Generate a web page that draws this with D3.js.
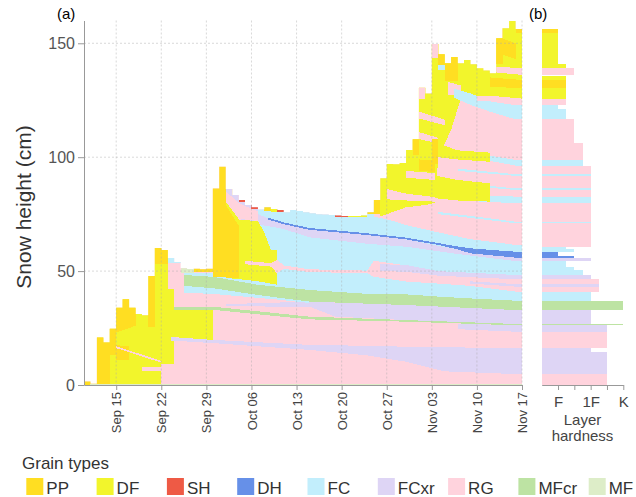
<!DOCTYPE html>
<html>
<head>
<meta charset="utf-8">
<script src="https://cdn.jsdelivr.net/npm/d3@7"></script>
<style>
body { margin: 0; background: #fff; }
svg text { font-family: "Liberation Sans", Arial, sans-serif; }
</style>
</head>
<body>
<div id="chart"></div>
<script>
// grain types and their colours
var grainTypes  = ['PP', 'DF', 'SH', 'DH', 'FC', 'FCxr', 'RG', 'MFcr', 'MF'];
var grainColors = ['#ffde22', '#f2f52c', '#ee5a45', '#6690e8', '#c2eefc', '#ded5f5', '#ffd3dd', '#bde3a3', '#ddedc8'];

// daily snow height (cm), day 0 = Sep 10
var snowHeight = [1.5, 0.5, 20.8, 18.7, 24.7, 33.9, 37.6, 33.9, 31.2, 30.6, 47.8, 60.1, 59.3, 55.7, 54.0, 51.2, 50.9,
  51.0, 50.8, 51.0, 86.3, 95.8, 86.0, 83.4, 81.2, 79.0, 78.0, 77.0, 78.0, 77.3, 76.8, 75.8, 76.8, 76.4, 75.8, 75.4,
  75.0, 74.8, 74.6, 74.4, 74.2, 74.2, 74.2, 74.4, 75.8, 81.2, 90.7, 97.0, 96.9, 97.4, 103.2, 107.9, 130.5, 128.0,
  149.7, 145.2, 141.2, 144.0, 141.2, 142.7, 140.8, 139.0, 138.0, 136.8, 152.2, 156.6, 159.8, 156.3];

// layers: [grain, [[day, bottom, top], ...]]  (S = up to the surface)
var S = 999;
var baseLayer = [['RG', [[0, 0, S], [68, 0, S]]]];

var earlyLayers = [
  ['DF', [[2, 0, S], [12, 0, S], [12, 9, S], [13, 9, S], [13, 9, 42], [14, 9, 42], [14, 21, 34], [20, 19.8, 33.2]]],
  ['PP', [[0, 0, S], [4, 0, S]]],
  ['PP', [[4, 13, S], [5, 13, S]]],
  ['PP', [[5, 23, S], [8, 26, S]]],
  ['PP', [[5, 11, 17.5], [7, 11, 17]]],
  ['PP', [[10, 25.6, S], [11, 25.6, S]]],
  ['PP', [[11, 53, S], [13, 53, S]]],
  ['RG', [[5, 16.2, 17], [12, 9.8, 10.6]]],
  ['RG', [[9, 6, 8], [12, 6, 8]]]
];

var lowerLayers = [
  ['FCxr', [[13.5, 19.5, 21], [20, 18.4, 19.8], [35, 15.4, 17.6], [44, 13, 17.2], [50, 10.2, 16.8], [56, 6, 16.6], [67, 4.8, 16.1], [68, 4.8, 16.1]]],
  ['FCxr', [[58, 24.5, 27], [67, 23.4, 26.2], [68, 23.4, 26.2]]],
  ['FCxr', [[22, 34.5, 35.5], [35, 34.4, 36.6], [39, 30, 36.2], [50, 28.5, 35.1], [67, 26.8, 32.9], [68, 26.8, 32.9]]],
  ['MFcr', [[14, 33, 34.2], [20, 33, 34.4], [35, 28.8, 30], [50, 27.8, 28.5], [67, 26.2, 26.8], [68, 26.2, 26.8]]],
  ['FC', [[15.5, 40.5, 43.5], [20, 40, 42.5], [30, 37.5, 38.8], [35, 36, 36.6]]],
  ['MFcr', [[15.5, 43.5, 48.5], [20, 42.5, 47.5], [27, 39.5, 44], [35, 36.6, 41.7], [50, 35.1, 39.8], [67, 32.9, 37], [68, 32.9, 37]]]
];

var fcLayers = [
  ['FC', [[15.5, 48.3, 49.5], [20, 47.5, 49], [24, 45.5, 47], [27, 44, S], [35, 41.7, S], [44, 40, S], [45, 40, 74], [48, 39.9, 72],
          [50, 39.8, 70.2], [55, 38.8, 67], [60, 38, 64], [67, 37, 61.5], [68, 37, 61.5]]],
  ['FCxr', [[24, 73, S], [27, 70.5, S], [27, 70.5, 75], [29, 69.5, 72.7], [31, 68.5, 70.6], [35, 64.8, 68.1], [44, 62, 65.8],
            [50, 60.7, 63.9], [58, 57.5, 59.5], [67, 54.4, 55.9], [68, 54.4, 55.9]]],
  ['DH', [[28.5, 72.7, 73.5], [31, 70.6, 71.4], [35, 68.1, 68.9], [44, 65.8, 66.6], [50, 63.9, 64.7], [55, 61.5, 62.3],
          [58, 59.5, 60.8], [60, 57.8, 60], [67, 55.9, 58.5], [68, 55.9, 58.5]]]
];

var stormLayers = [
  ['FC', [[13, 53.4, S], [15, 53.4, S]]],
  ['MF', [[15, 49, S], [17, 49, S]]],
  ['PP', [[17, 49.5, S], [20, 49.5, S]]],
  ['DF', [[22, 47, S], [24, 46.5, 72.5], [27, 45.5, 72], [28, 45, 67], [29, 44.5, 59.3], [30, 44, 59.3]]],
  ['PP', [[20, 47.5, S], [22, 47.5, S]]],
  ['PP', [[22, 47, 79], [24, 47, 70]]],
  ['RG', [[22, 80.5, S], [24, 73, S], [27, 72, S]]],
  ['FCxr', [[22, 85, S], [23, 82.5, S], [24, 80, S], [26, 77.3, S], [27, 76.3, S]]],
  ['RG', [[25, 53, 54.5], [29, 52, 53.5], [30, 49, 55], [31, 51, 52.5], [35, 49.6, 50.8], [44, 49, 50.2], [45, 47.5, 54.5],
          [50, 45.4, 52.5], [55, 44.5, 50], [60, 43.5, 47.5], [67, 41, 46.4], [68, 41, 46.4]]],
  ['FCxr', [[46, 50, 53], [50, 49.7, 52.7], [55, 48, 50], [67, 46.4, 48.3], [68, 46.4, 48.3]]],
  ['FCxr', [[60, 44.5, 45.5], [67, 43.2, 44.3], [68, 43.2, 44.3]]],
  ['PP', [[28, 76.5, S], [29, 76.5, S]]],
  ['DF', [[29, 75.8, S], [30, 75.8, S]]],
  ['SH', [[24, 80.4, S], [25, 80.4, S]]],
  ['SH', [[26, 77.3, S], [27, 77.3, S]]],
  ['SH', [[30, 76.1, S], [31, 76.1, S]]],
  ['SH', [[39, 73.8, S], [41, 73.8, S]]],
  ['DF', [[41, 73.7, S], [44, 73.7, S]]]
];

var upperLayers = [
  ['FC', [[55, 75, 76], [67, 71, 71.7], [68, 71, 71.7]]],
  ['FC', [[58, 81, 83.5], [67, 79.8, 82.7], [68, 79.8, 82.7]]],
  ['FC', [[57, 88, 89], [67, 85.6, 86.3], [68, 85.6, 86.3]]],
  ['FC', [[58, 94, 95], [67, 91.8, 92.5], [68, 91.8, 92.5]]],
  ['FC', [[56, 102, 104], [67, 96.3, 98.8], [68, 96.3, 98.8]]],
  ['PP', [[44, 75, S], [46, 75, S]]],
  ['DF', [[46, 74, S], [48, 76, S], [50, 78, S], [53, 79, S], [54.5, 80, S], [55, 100, S], [57, 112, S], [58.5, 125.7, S], [68, 125.7, S]]],
  ['DF', [[54.5, 82, 92], [58, 81, 90], [63, 80.5, 88.5]]],
  ['DF', [[55, 100, 106], [58, 99, 103], [63, 98, 102]]],
  ['RG', [[47, 81.5, 86], [50, 81, 84], [54.5, 80.5, 82.5]]],
  ['RG', [[50, 91, 94], [54.5, 90, 93]]],
  ['RG', [[52, 108, 111], [55, 106, 108.5]]],
  ['RG', [[52, 117, 120], [56, 114, 116.5]]],
  ['RG', [[52, 125.5, S], [53, 125.5, S]]],
  ['RG', [[54, 143.4, S], [55, 143.4, S]]],
  ['RG', [[56.5, 127.5, 133], [58.5, 127, 131.5]]],
  ['PP', [[51, 101, S], [52, 101, S]]],
  ['PP', [[52, 94, 99], [54.5, 93.5, 98.5]]],
  ['PP', [[54, 97, 108], [55, 97, 108]]],
  ['PP', [[55, 140.5, S], [56, 140.5, S]]],
  ['PP', [[56, 133.5, S], [58, 133.5, S]]],
  ['FC', [[55, 138.3, 140.5], [56, 138.3, 140.5]]],
  ['FC', [[57.5, 126, 130], [60, 123, 128], [63, 120, 124.5], [67, 116.6, 122.8], [68, 116.6, 122.8]]],
  ['RG', [[61, 124.5, 127], [63, 124.5, 127], [68, 122.8, 125.7]]],
  ['PP', [[63, 131, 135], [68, 130.2, 133.9]]],
  ['RG', [[63, 137.5, 140], [68, 136.1, 139]]],
  ['PP', [[64, 141, S], [65, 141, S]]],
  ['PP', [[65, 145, 152], [67, 143, 150]]],
  ['PP', [[67, 154.7, S], [68, 154.7, S]]]
];

var groundLayer = [['MF', [[1, 0, 0.6], [68, 0, 0.6]]]];

// final profile (Nov 17): [bottom, top, grain, hardness]
var finalProfile = [
  [0, 4.8, 'RG', 4], [4.8, 14.6, 'FCxr', 4], [14.6, 16.1, 'FCxr', 3], [16.1, 23.4, 'RG', 4], [23.4, 26.2, 'FCxr', 4],
  [26.2, 26.8, 'MFcr', 5], [26.8, 32.9, 'FCxr', 3], [32.9, 37, 'MFcr', 5], [37, 41, 'FC', 3], [41, 43.2, 'RG', 3.5],
  [43.2, 44.3, 'FCxr', 3.5], [44.3, 46.4, 'RG', 3.5], [46.4, 48.3, 'FCxr', 3], [48.3, 50.3, 'FC', 2.5], [50.3, 52, 'FC', 2],
  [52, 54.4, 'FC', 1.5], [54.4, 55.9, 'FCxr', 3], [55.9, 56.8, 'DH', 2], [56.8, 58.5, 'DH', 1], [58.5, 59.6, 'FC', 2],
  [59.6, 60.7, 'FC', 1.5], [60.7, 71, 'RG', 3], [71, 71.7, 'FC', 3], [71.7, 79.8, 'RG', 3], [79.8, 82.7, 'FC', 3],
  [82.7, 85.6, 'RG', 3], [85.6, 86.3, 'FC', 3], [86.3, 91.8, 'RG', 3], [91.8, 92.5, 'FC', 3], [92.5, 96.3, 'RG', 3],
  [96.3, 98.8, 'FC', 2.5], [98.8, 106.1, 'RG', 2.5], [106.1, 116.6, 'RG', 2], [116.6, 121, 'FC', 1.5], [121, 122.8, 'FC', 1],
  [122.8, 125.7, 'RG', 1.5], [125.7, 130.2, 'DF', 1.5], [130.2, 133.9, 'PP', 1.5], [133.9, 135.6, 'DF', 1.5],
  [136.1, 139, 'RG', 2], [139, 140.9, 'DF', 1.5], [140.9, 154.7, 'DF', 1], [154.7, 156.3, 'PP', 1]
];

var yTicks = [0, 50, 100, 150];
var hardnessTicks = [1, 2, 3, 4, 5];
var hardnessLabels = ['F', '', '1F', '', 'K'];

var width = 636, height = 497;
var svg = d3.select('#chart').append('svg')
    .attr('width', width)
    .attr('height', height);

var DAY = 864e5, t0 = Date.UTC(2021, 8, 10);
function dayDate(d) { return new Date(t0 + d * DAY); }

var x = d3.scaleUtc().domain([dayDate(0), dayDate(68)]).range([84, 522]);
var y = d3.scaleLinear().domain([0, 160]).range([385, 20.5]);
var hard = d3.scaleLinear().domain([0, 5]).range([541.7, 623.3]);
var color = d3.scaleOrdinal().domain(grainTypes).range(grainColors);

// clip everything to the snow surface (daily steps)
var hsPts = snowHeight.map(function(h, i) { return [i, h]; });
hsPts.push([snowHeight.length, snowHeight[snowHeight.length - 1]]);
svg.append('clipPath').attr('id', 'hs')
  .append('path')
    .attr('d', d3.area().curve(d3.curveStepAfter)
      .x(function(d) { return x(dayDate(d[0])); })
      .y0(y(0))
      .y1(function(d) { return y(d[1]); })(hsPts));

var band = d3.area()
    .x(function(d) { return x(dayDate(d[0])); })
    .y0(function(d) { return y(d[1]); })
    .y1(function(d) { return y(Math.min(d[2], 200)); });

var plot = svg.append('g').attr('clip-path', 'url(#hs)');
[baseLayer, earlyLayers, lowerLayers, fcLayers, stormLayers, upperLayers, groundLayer].forEach(function(group) {
  group.forEach(function(l) {
    plot.append('path')
        .attr('d', band(l[1]))
        .attr('fill', color(l[0]))
        .attr('shape-rendering', 'crispEdges');
  });
});

// grid (drawn faintly over the profile)
var xTicks = d3.range(5, 69, 7).map(dayDate);
var grid = svg.append('g')
    .attr('stroke', '#aaa')
    .attr('stroke-dasharray', '2,2')
    .attr('stroke-opacity', 0.45);
xTicks.forEach(function(t) {
  grid.append('line').attr('x1', x(t)).attr('x2', x(t)).attr('y1', y(160)).attr('y2', y(0));
});
yTicks.slice(1).forEach(function(v) {
  grid.append('line').attr('x1', 84).attr('x2', 522).attr('y1', y(v)).attr('y2', y(v));
});

// axes
var gx = svg.append('g')
    .attr('transform', 'translate(0,' + y(0) + ')')
    .call(d3.axisBottom(x).tickValues(xTicks).tickFormat(d3.utcFormat('%b %d')).tickSize(5).tickSizeOuter(0));
gx.selectAll('.tick text')
    .attr('transform', 'rotate(-90)')
    .attr('text-anchor', 'end')
    .attr('x', -7)
    .attr('y', 0)
    .attr('dy', '0.35em')
    .style('font-size', '13px')
    .attr('fill', '#444');

var gy = svg.append('g')
    .attr('transform', 'translate(84,0)')
    .call(d3.axisLeft(y).tickValues(yTicks).tickSize(6).tickSizeOuter(0));
gy.selectAll('.tick text').style('font-size', '16px').attr('fill', '#555');

var gh = svg.append('g')
    .attr('transform', 'translate(0,' + y(0) + ')')
    .call(d3.axisBottom(hard).tickValues(hardnessTicks)
      .tickFormat(function(d, i) { return hardnessLabels[i]; })
      .tickSize(5).tickSizeOuter(0));
gh.selectAll('.tick text').attr('y', 11).style('font-size', '15px').attr('fill', '#444');

[gx, gy, gh].forEach(function(a) {
  a.select('.domain').attr('stroke', '#999');
  a.selectAll('.tick line').attr('stroke', '#999');
});

// panel (b): final profile with hardness
svg.append('g').selectAll('rect')
    .data(finalProfile)
  .enter().append('rect')
    .attr('x', hard(0))
    .attr('y', function(d) { return y(d[1]); })
    .attr('width', function(d) { return hard(d[3]) - hard(0); })
    .attr('height', function(d) { return y(d[0]) - y(d[1]); })
    .attr('fill', function(d) { return color(d[2]); })
    .attr('shape-rendering', 'crispEdges');

// labels
svg.append('text').attr('x', 57).attr('y', 19).style('font-size', '15px').text('(a)');
svg.append('text').attr('x', 529).attr('y', 19).style('font-size', '15px').text('(b)');
svg.append('text')
    .attr('transform', 'translate(31,207) rotate(-90)')
    .attr('text-anchor', 'middle')
    .style('font-size', '21px')
    .attr('fill', '#333')
    .text('Snow height (cm)');
svg.append('text').attr('x', 582.5).attr('y', 425).attr('text-anchor', 'middle')
    .style('font-size', '15px').attr('fill', '#444').text('Layer');
svg.append('text').attr('x', 582.5).attr('y', 441).attr('text-anchor', 'middle')
    .style('font-size', '15px').attr('fill', '#444').text('hardness');

// legend
svg.append('text').attr('x', 22).attr('y', 469).style('font-size', '17px').attr('fill', '#333').text('Grain types');
var legend = svg.append('g').selectAll('g')
    .data(grainTypes)
  .enter().append('g')
    .attr('transform', function(d, i) { return 'translate(' + (26.3 + i * 70.3) + ',478)'; });
legend.append('rect').attr('width', 17).attr('height', 17).attr('fill', function(d) { return color(d); });
legend.append('text').attr('x', 20).attr('y', 15.5).style('font-size', '17px').attr('fill', '#333')
    .text(function(d) { return d; });
</script>
</body>
</html>
